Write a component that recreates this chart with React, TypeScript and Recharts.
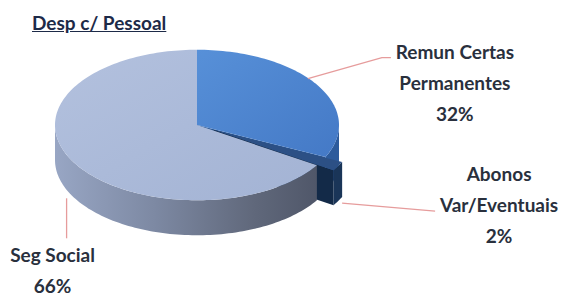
import React from 'react';
import { PieChart, Pie, Tooltip } from 'recharts';

const title = 'Desp c/ Pessoal';
const categories = ['Remun Certas Permanentes', 'Abonos Var/Eventuais', 'Seg Social'];
const values = [32, 2, 66];
const labelNames = [
  ['Remun Certas', 'Permanentes'],
  ['Abonos', 'Var/Eventuais'],
  ['Seg Social'],
];

const data = categories.map((name, i) => ({ name, value: values[i] }));

const W = 566;
const H = 293;
const CX = 197;
const CY = 125;
const R = 142;
const K = 0.53;
const DEPTH = 35;
const EXPLODE = [0, 19, 0];
const TOP_FILLS = ['url(#remunTop)', '#2c5085', 'url(#segTop)'];
const SIDE_FILLS = ['#2d5b9c', '#1a3558', 'url(#segSide)'];
const FACE_FILLS = ['#2a5590', '#132a48', '#7d8aa6'];
const TEXT_COLOR = '#29303d';
const LINE_COLOR = '#e69c9c';
const FONT = "Lato, 'Open Sans', sans-serif";
const LINE_H = 31;

const LABEL_LAYOUT = [
  { dz: 0, line: [[-9, -6], [65, -27], [74, -27]], text: [138, -33] },
  { dz: DEPTH, line: [[4, 2], [97, 10]], text: [161, -28] },
  { dz: DEPTH, line: [[-6, 2], [-6, 42]], text: [-20, 58] },
];

const rad = (d: number) => (d * Math.PI) / 180;
const pt = (cx: number, cy: number, r: number, a: number, dz = 0): [number, number] => [
  cx + r * Math.cos(rad(a)),
  cy - r * K * Math.sin(rad(a)) + dz,
];
const arcPts = (cx: number, cy: number, r: number, a1: number, a2: number, dz: number) => {
  const n = Math.max(2, Math.ceil(Math.abs(a2 - a1) / 1.5));
  const out: [number, number][] = [];
  for (let i = 0; i <= n; i++) out.push(pt(cx, cy, r, a1 + ((a2 - a1) * i) / n, dz));
  return out;
};
const toPath = (pts: [number, number][]) =>
  'M' + pts.map((p) => p[0].toFixed(2) + ',' + p[1].toFixed(2)).join('L') + 'Z';

const idxOf = (props: any) => {
  const n = props?.payload?.name ?? props?.name;
  const i = categories.indexOf(n);
  return i < 0 ? (props.index ?? 0) : i;
};
const offsetOf = (props: any, i: number): [number, number] => {
  const e = EXPLODE[i] || 0;
  const m = (props.startAngle + props.endAngle) / 2;
  return [e * Math.cos(rad(m)), -e * K * Math.sin(rad(m))];
};

const Defs = () => (
  <defs>
    <linearGradient id="segSide" x1={CX - R} x2={CX + R} y1={0} y2={0} gradientUnits="userSpaceOnUse">
      <stop offset="0" stopColor="#98a6c4" />
      <stop offset="0.35" stopColor="#7d89a3" />
      <stop offset="0.7" stopColor="#60687b" />
      <stop offset="1" stopColor="#4a5163" />
    </linearGradient>
    <linearGradient id="segTop" x1={0} x2={1} y1={0} y2={1}>
      <stop offset="0" stopColor="#b3c1de" />
      <stop offset="1" stopColor="#a3b3d4" />
    </linearGradient>
    <linearGradient id="remunTop" x1={0} x2={1} y1={0} y2={1}>
      <stop offset="0" stopColor="#5790d8" />
      <stop offset="1" stopColor="#4479c6" />
    </linearGradient>
  </defs>
);

const SideShape = (props: any) => {
  const i = idxOf(props);
  const { cx, cy, outerRadius: r, startAngle, endAngle } = props;
  const [ox, oy] = offsetOf(props, i);
  const x0 = cx + ox;
  const y0 = cy + oy;
  const lo = Math.min(startAngle, endAngle);
  const hi = Math.max(startAngle, endAngle);
  const e0 = pt(x0, y0, r, endAngle, 0);
  const e1 = pt(x0, y0, r, endAngle, DEPTH);
  const face = toPath([[x0, y0], e0, e1, [x0, y0 + DEPTH]]);
  const a = Math.max(lo, -180);
  const b = Math.min(hi, 0);
  let outer: string | null = null;
  if (b > a) {
    outer = toPath([...arcPts(x0, y0, r, a, b, 0), ...arcPts(x0, y0, r, b, a, DEPTH)]);
  }
  return (
    <g>
      {i === 0 && <Defs />}
      <path d={face} fill={FACE_FILLS[i]} stroke="none" />
      {outer && <path d={outer} fill={SIDE_FILLS[i]} stroke="none" />}
    </g>
  );
};

const TopShape = (props: any) => {
  const i = idxOf(props);
  const { cx, cy, outerRadius: r, startAngle, endAngle } = props;
  const [ox, oy] = offsetOf(props, i);
  const x0 = cx + ox;
  const y0 = cy + oy;
  const d = toPath([[x0, y0], ...arcPts(x0, y0, r, startAngle, endAngle, 0)]);
  return <path d={d} fill={TOP_FILLS[i]} stroke="none" />;
};

const renderLabel = (props: any) => {
  const i = idxOf(props);
  const cfg = LABEL_LAYOUT[i];
  const [ox, oy] = offsetOf(props, i);
  const [ax, ay] = pt(props.cx + ox, props.cy + oy, props.outerRadius, props.midAngle, cfg.dz);
  const linePts = cfg.line.map(([dx, dy]) => `${(ax + dx).toFixed(1)},${(ay + dy).toFixed(1)}`).join(' ');
  const lines = [...labelNames[i], `${Math.round((props.percent ?? 0) * 100)}%`];
  const tx = ax + cfg.text[0];
  const ty = ay + cfg.text[1];
  return (
    <g>
      <polyline points={linePts} fill="none" stroke={LINE_COLOR} strokeWidth={1.3} />
      {lines.map((t, k) => (
        <text
          key={k}
          x={tx}
          y={ty + k * LINE_H}
          textAnchor="middle"
          dominantBaseline="central"
          fill={TEXT_COLOR}
          fontFamily={FONT}
          fontWeight={700}
          fontSize={19}
        >
          {t}
        </text>
      ))}
    </g>
  );
};

export default function App() {
  return (
    <div style={{ position: 'absolute', left: 0, top: 0, width: W, height: H, background: '#fff' }}>
      <div
        style={{
          position: 'absolute',
          left: 32,
          top: 13,
          fontFamily: FONT,
          fontWeight: 700,
          fontSize: 19,
          lineHeight: '19px',
          color: '#1d2a48',
          textDecoration: 'underline',
          zIndex: 2,
        }}
      >
        {title}
      </div>
      <PieChart width={W} height={H} margin={{ top: 0, right: 0, bottom: 0, left: 0 }}>
        <Pie
          data={data}
          dataKey="value"
          nameKey="name"
          cx={CX}
          cy={CY}
          outerRadius={R}
          startAngle={90}
          endAngle={-270}
          stroke="none"
          isAnimationActive={false}
          shape={SideShape}
          activeShape={SideShape}
          inactiveShape={SideShape}
          label={false}
          labelLine={false}
        />
        <Pie
          data={data}
          dataKey="value"
          nameKey="name"
          cx={CX}
          cy={CY}
          outerRadius={R}
          startAngle={90}
          endAngle={-270}
          stroke="none"
          isAnimationActive={false}
          shape={TopShape}
          activeShape={TopShape}
          inactiveShape={TopShape}
          label={renderLabel}
          labelLine={false}
        />
        <Tooltip defaultIndex={0} content={() => null} cursor={false} />
      </PieChart>
    </div>
  );
}
